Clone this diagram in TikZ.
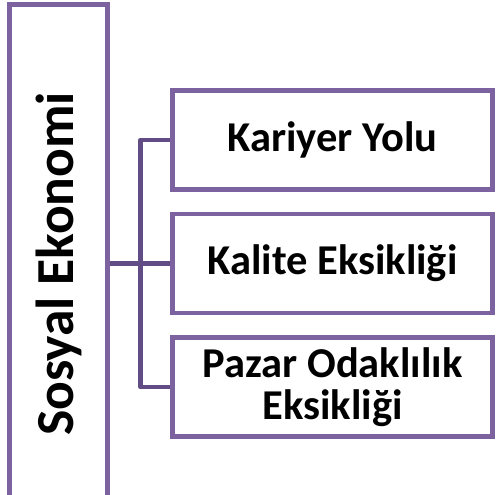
\documentclass[tikz,border=0pt]{standalone}
\usepackage{fontspec}
\setmainfont{Carlito}
\definecolor{boxpurple}{RGB}{125,98,160}
\definecolor{linkpurple}{RGB}{98,76,134}
\begin{document}
\begin{tikzpicture}[x=1pt,y=-1pt,
  box/.style={draw=boxpurple,line width=4.6pt,fill=white,inner sep=0pt,
    minimum width=320pt,minimum height=99pt,font=\bfseries\fontsize{42.5}{42}\selectfont,align=center},
  mainbox/.style={draw=boxpurple,line width=4.6pt,fill=white,inner sep=0pt,
    minimum width=98pt,minimum height=519pt},
  link/.style={draw=linkpurple,line width=4.6pt,line join=round}]
\clip (0,0) rectangle (495,495);
\fill[white] (0,0) rectangle (495,495);
\node[mainbox] (L) at (58.5,264) {};
\node[rotate=90,font=\bfseries\fontsize{53.5}{54}\selectfont] (LT) at (58.5,264) {Sosyal Ekonomi};
\node[box] (B1) at (332.5,140) {Kariyer Yolu};
\node[box] (B2) at (332.5,263.5) {Kalite Eksikliği};
\node[box] (B3) at (332.5,387) {Pazar Odaklılık\\Eksikliği};
\coordinate (J) at (140.5,263.5);
\draw[link] (L.east |- J) -- (B2.west);
\draw[link] (B1.west) -| (J) |- (B3.west);
\end{tikzpicture}
\end{document}
